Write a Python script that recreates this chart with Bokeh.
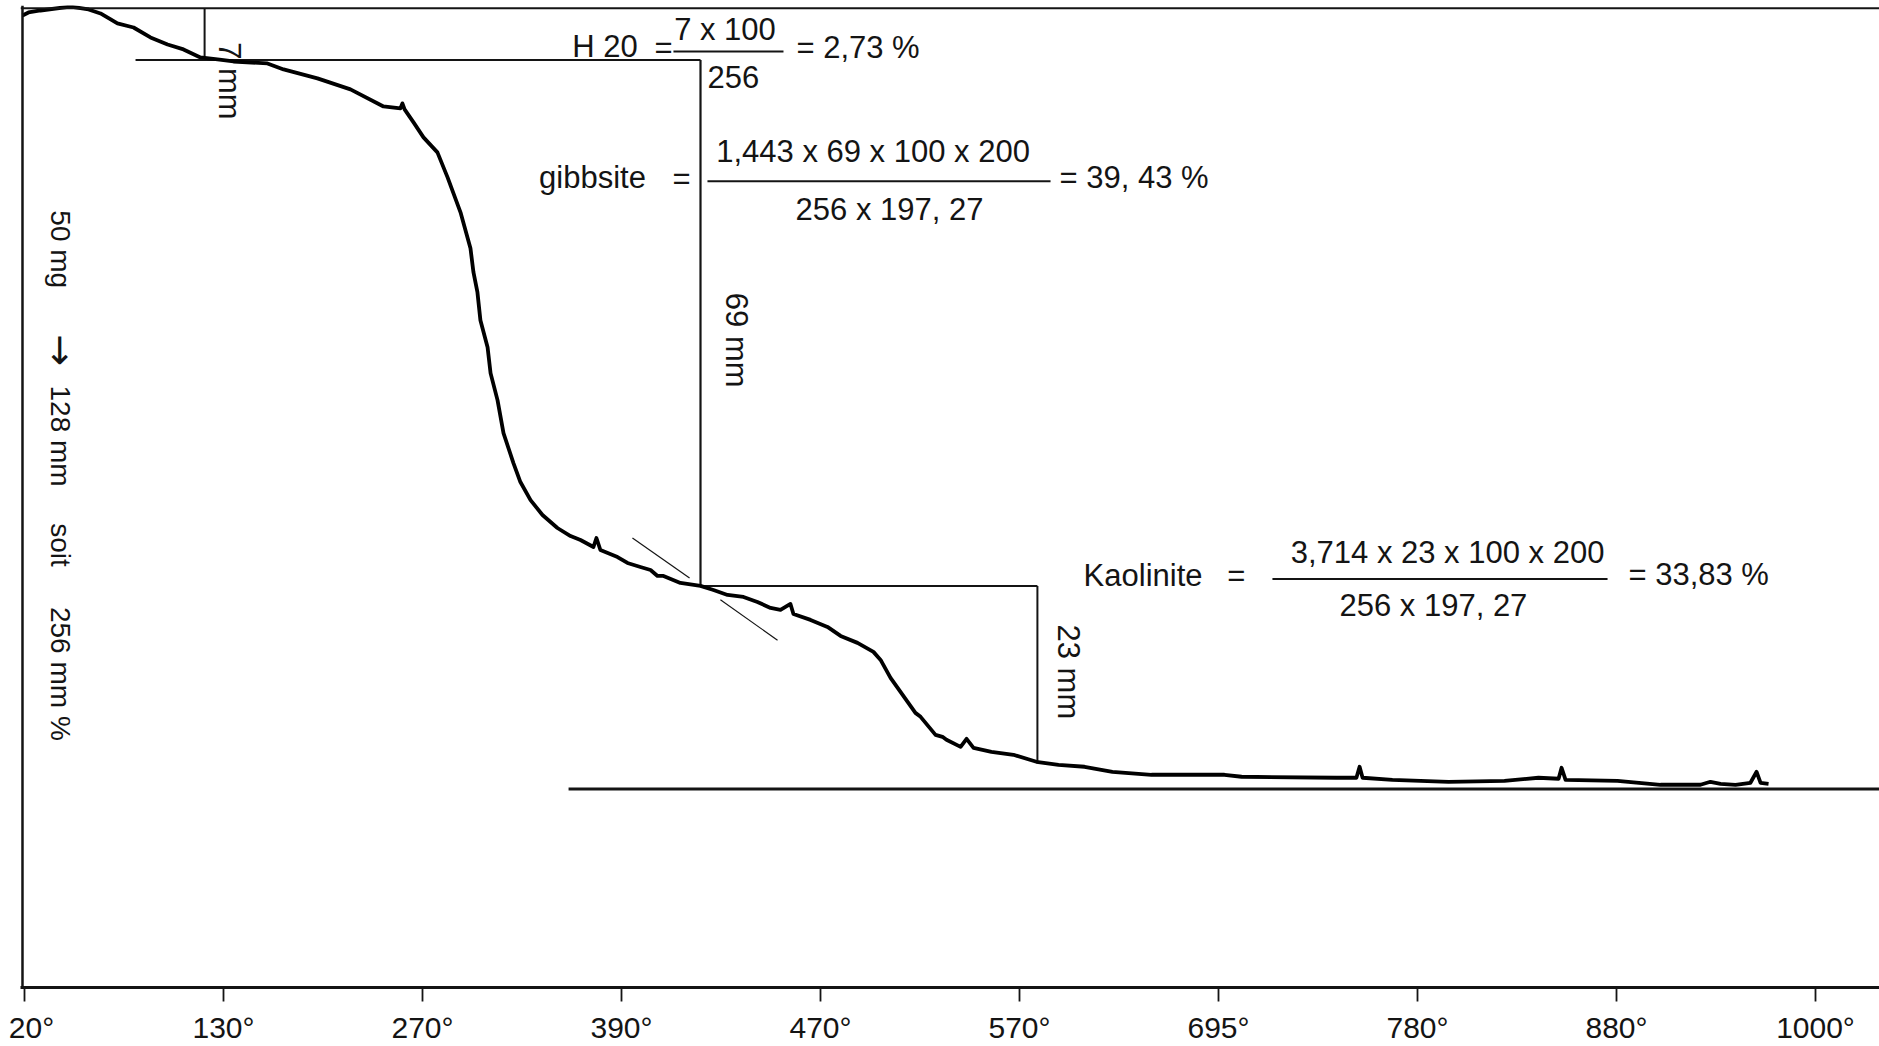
from bokeh.plotting import figure
from bokeh.models import Range1d, FixedTicker, Span
from bokeh.core.properties import value
from bokeh.embed import file_html
from bokeh.resources import INLINE
import math

# ---------------- data ----------------
# x: chart divisions (uniform recorder scale), labelled with furnace temperatures
tick_pos = [0, 1, 2, 3, 4, 5, 6, 7, 8, 9]
tick_labels = ["\u00a020°", "130°", "270°", "390°", "470°", "570°",
               "695°", "780°", "880°", "1000°"]

# thermogravimetric curve: y = pen travel downward in mm (128 mm = 50 mg)
curve_x = [-0.010, 0.020, 0.080, 0.231, 0.322, 0.382, 0.467, 0.548, 0.633, 0.719,
           0.799, 0.884, 0.970, 1.050, 1.221, 1.302, 1.472, 1.638, 1.804, 1.889,
           1.899, 1.910, 1.955, 2.005, 2.075, 2.126, 2.191, 2.241, 2.256, 2.276,
           2.291, 2.327, 2.342, 2.377, 2.407, 2.457, 2.492, 2.543, 2.603, 2.678,
           2.744, 2.794, 2.859, 2.874, 2.894, 2.980, 3.030, 3.095, 3.146, 3.181,
           3.211, 3.296, 3.397, 3.462, 3.533, 3.613, 3.683, 3.749, 3.799, 3.849,
           3.864, 3.950, 4.035, 4.101, 4.186, 4.266, 4.302, 4.352, 4.477, 4.503,
           4.578, 4.613, 4.633, 4.704, 4.734, 4.769, 4.859, 4.970, 5.085, 5.196,
           5.327, 5.467, 5.663, 6.030, 6.116, 6.593, 6.693, 6.709, 6.724, 6.874,
           7.156, 7.437, 7.608, 7.709, 7.724, 7.744, 8.005, 8.221, 8.422, 8.472,
           8.523, 8.598, 8.673, 8.704, 8.724, 8.764]
curve_y = [0.65, 0.26, 0.00, -0.52, -0.13, 0.39, 1.70, 2.23, 3.53, 4.45,
           5.10, 6.15, 6.41, 6.68, 6.94, 7.72, 8.90, 10.34, 12.57, 12.83,
           12.17, 12.96, 14.66, 16.62, 18.59, 21.86, 26.44, 31.15, 34.29, 36.91,
           40.58, 44.11, 47.51, 51.05, 55.37, 59.29, 61.78, 64.14, 66.10, 67.80,
           68.85, 69.37, 70.29, 69.11, 70.68, 71.60, 72.38, 72.91, 73.30, 74.08,
           74.08, 75.00, 75.39, 75.92, 76.57, 76.83, 77.49, 78.27, 78.53, 77.75,
           79.06, 79.84, 80.76, 81.94, 82.85, 84.03, 85.08, 87.43, 92.02, 92.54,
           94.90, 95.16, 95.55, 96.47, 95.42, 96.60, 97.12, 97.51, 98.43, 98.82,
           99.08, 99.74, 100.13, 100.13, 100.39, 100.52, 100.52, 99.08, 100.52, 100.79,
           101.05, 100.92, 100.52, 100.65, 99.21, 100.79, 100.92, 101.44, 101.44, 101.05,
           101.31, 101.44, 101.18, 99.74, 101.18, 101.31]

# construction: step levels (mm) and where they are taken (divisions)
level_top = -0.3
level_h2o = 6.5
level_gibbsite = 75.4
level_kaolinite = 98.4
level_final = 102.0
full_scale_mm = 128.0
x_h2o = 0.905
x_gibbsite = 3.397
x_kaolinite = 5.090
x_h2o_line_start = 0.558
x_final_start = 2.734
tangent_x = [[3.055, 3.342], [3.497, 3.784]]
tangent_y = [[69.10, 74.35], [77.20, 82.50]]

left_label_parts = ["50 mg", "\u2192", "128 mm", "soit", "256 mm %"]

# ---------------- figure ----------------
INK = "#141414"
FONT = value("Liberation Sans")

p = figure(width=1879, height=1046, output_backend="svg", toolbar_location=None,
           x_range=Range1d(-0.0201, 9.3216),
           y_range=Range1d(full_scale_mm, -0.654),
           min_border_left=20, min_border_right=0, min_border_top=5,
           min_border_bottom=58)
p.background_fill_color = "white"
p.border_fill_color = "white"
p.outline_line_color = None
p.grid.visible = False
p.yaxis.visible = False

ax = p.xaxis[0]
ax.ticker = FixedTicker(ticks=tick_pos)
ax.major_label_overrides = {t: lab for t, lab in zip(tick_pos, tick_labels)}
ax.minor_tick_line_color = None
ax.major_tick_in = 0
ax.major_tick_out = 14
ax.major_tick_line_width = 1.8
ax.major_tick_line_color = INK
ax.axis_line_width = 3
ax.axis_line_color = INK
ax.major_label_standoff = 9
ax.major_label_text_font = "Liberation Sans"
ax.major_label_text_font_size = "30px"
ax.major_label_text_color = INK

# frame lines: left edge and top edge of the chart paper
p.add_layout(Span(location=-0.0101, dimension="height", line_color=INK, line_width=2.5))
p.add_layout(Span(location=level_top, dimension="width", line_color=INK, line_width=2))

# construction lines
p.segment(x0=[x_h2o, x_h2o_line_start, x_gibbsite, x_gibbsite, x_kaolinite, x_final_start],
          y0=[level_top, level_h2o, level_h2o, level_gibbsite, level_gibbsite, level_final],
          x1=[x_h2o, x_gibbsite, x_gibbsite, x_kaolinite, x_kaolinite, 9.33],
          y1=[level_h2o, level_h2o, level_gibbsite, level_gibbsite, level_kaolinite, level_final],
          line_color=INK, line_width=[2, 2, 2.2, 2.2, 2, 3])
p.multi_line(xs=tangent_x, ys=tangent_y, line_color=INK, line_width=1.2)

# the TG curve
p.line(curve_x, curve_y, line_color="black", line_width=3.8, line_join="round")

# ---------------- annotations ----------------
def txt(x, y, s, align="center", size="31px", angle=0.0, font=FONT):
    p.text(x=[x], y=[y], text=[s], text_align=align, text_baseline="middle",
           text_font=font, text_font_size=value(size), text_color=INK, angle=angle)

def bar(xa, xb, y):
    p.segment(x0=[xa], y0=[y], x1=[xb], y1=[y], line_color=INK, line_width=2)

# H2O
txt(2.917, 4.71, "H 20")
txt(3.211, 4.84, "=")
txt(3.520, 2.49, "7 x 100")
bar(3.261, 3.814, 5.37)
txt(3.879, 4.84, "= 2,73 %", align="left")
txt(3.432, 8.70, "256", align="left")

# gibbsite
txt(2.854, 21.86, "gibbsite")
txt(3.302, 22.0, "=")
txt(4.264, 18.46, "1,443 x 69 x 100 x 200")
bar(3.432, 5.156, 22.38)
txt(5.201, 21.86, "= 39, 43 %", align="left")
txt(4.347, 26.05, "256 x 197, 27")

# kaolinite
txt(5.621, 74.08, "Kaolinite")
txt(6.090, 74.08, "=")
txt(7.151, 71.07, "3,714 x 23 x 100 x 200")
bar(6.271, 7.955, 74.48)
txt(8.060, 73.95, "= 33,83 %", align="left")
txt(7.080, 78.01, "256 x 197, 27")

# step heights (vertical text)
rot = -math.pi / 2
txt(1.030, 9.23, "7 mm", angle=rot)
txt(3.578, 43.19, "69 mm", angle=rot)
txt(5.246, 86.65, "23 mm", angle=rot)

# scale note along the left edge
left_y = [31.28, 44.5, 55.76, 70.03, 86.91]
for s, yc in zip(left_label_parts, left_y):
    if s == "\u2192":
        txt(0.181, yc, s, size="38px", angle=rot, font=value("DejaVu Sans"))
    else:
        txt(0.181, yc, s, size="28px", angle=rot)

open("out.html", "w").write(file_html(p, INLINE))
